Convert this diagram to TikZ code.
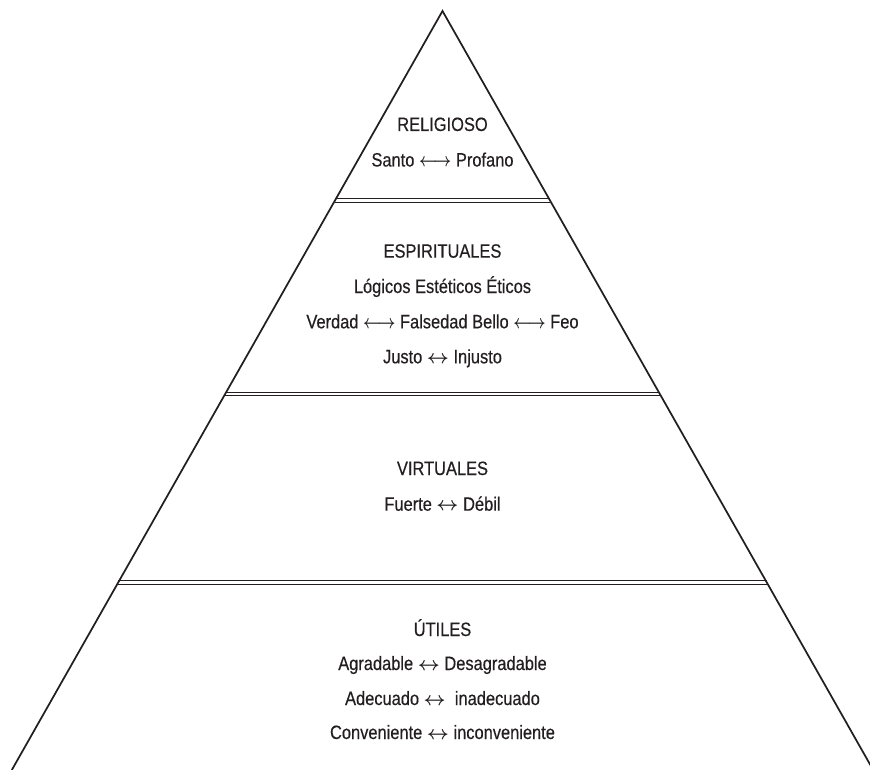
\documentclass[tikz,border=0pt]{standalone}
\usepackage{fontspec}
\setmainfont[FakeStretch=0.85,FakeBold=0.4]{Liberation Sans}
\usepackage{xcolor}
\definecolor{ink}{HTML}{231F20}
\newcommand{\shortlr}{{\boldmath$\leftrightarrow$}}
\newcommand{\longlr}{\scalebox{0.8}[1]{\boldmath$\longleftrightarrow$}}

\begin{document}
\begin{tikzpicture}[x=0.75pt,y=-0.75pt,
  lbl/.style={anchor=base,inner sep=0,text=ink,font=\fontsize{14.5}{16}\selectfont},
  sep/.style={draw=ink,line width=0.8pt,double=white,double distance=1.7pt}]
\useasboundingbox (0,0) rectangle (870,770);
\clip (0,0) rectangle (870,770);
% level separators
\draw[sep] (335.0,200.5) -- (550.0,200.5);
\draw[sep] (225.1,394.0) -- (659.9,394.0);
\draw[sep] (118.2,582.5) -- (766.8,582.5);
% pyramid
\draw[ink,line width=1.3pt,line join=miter] (11.8,770) -- (442.5,11) -- (873.2,770);
% religioso
\node[lbl] (rel) at (442.5,131) {RELIGIOSO};
\node[lbl] (relpair) at (442.5,166.5) {Santo \longlr{} Profano};
% espirituales
\node[lbl] (esp) at (442.5,257.7) {ESPIRITUALES};
\node[lbl] (espkinds) at (442.5,293) {Lógicos Estéticos Éticos};
\node[lbl] (esppairA) at (442.5,328.3) {Verdad \longlr{} Falsedad Bello \longlr{} Feo};
\node[lbl] (esppairB) at (442.5,363.3) {Justo \shortlr{} Injusto};
% virtuales
\node[lbl] (vir) at (442.5,475) {VIRTUALES};
\node[lbl] (virpair) at (442.5,510.7) {Fuerte \shortlr{} Débil};
% utiles
\node[lbl] (uti) at (442.5,636) {ÚTILES};
\node[lbl] (utipairA) at (442.5,670) {Agradable \shortlr{} Desagradable};
\node[lbl] (utipairB) at (442.5,705) {Adecuado \shortlr{}\ \ inadecuado};
\node[lbl] (utipairC) at (442.5,739) {Conveniente \shortlr{} inconveniente};
\end{tikzpicture}
\end{document}
